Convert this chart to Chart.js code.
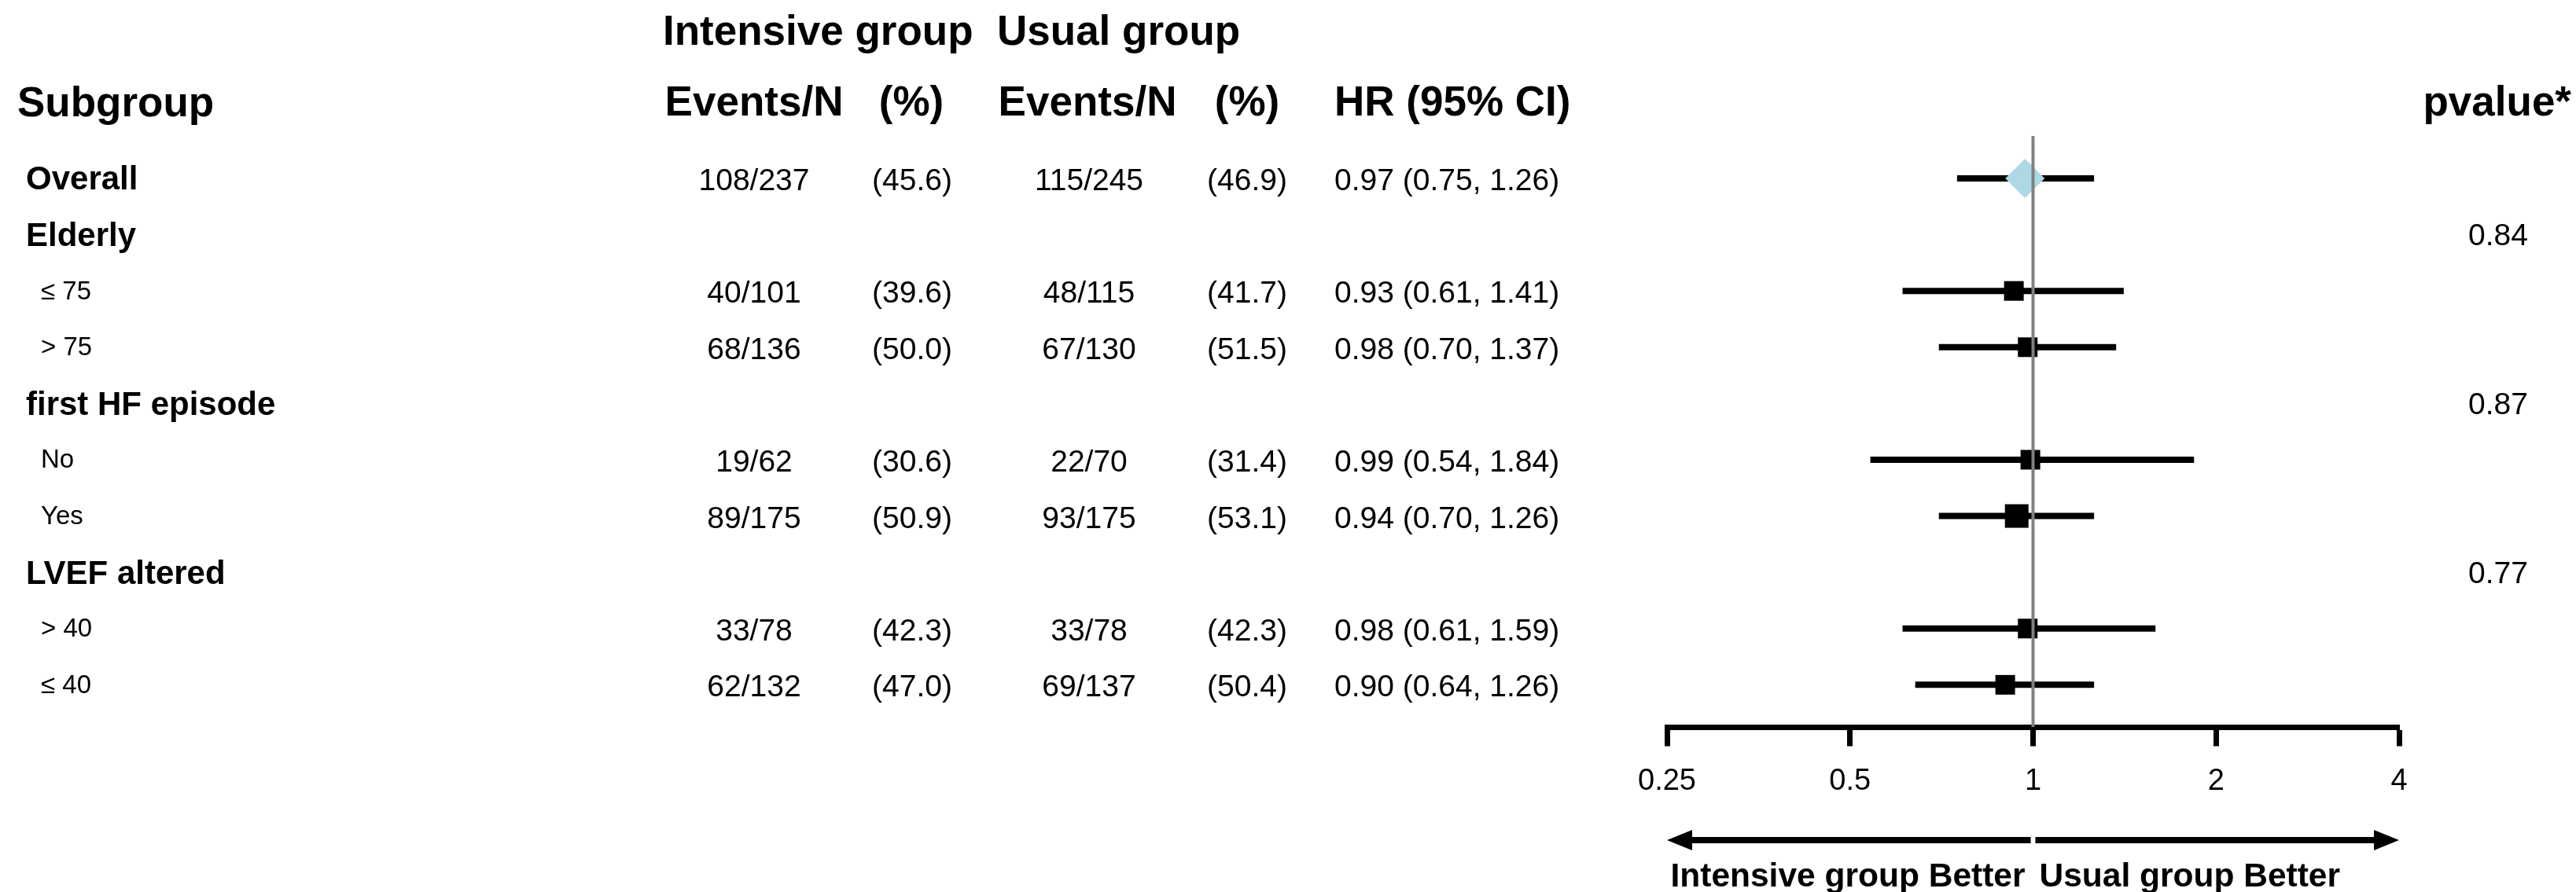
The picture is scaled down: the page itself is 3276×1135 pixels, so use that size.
<!DOCTYPE html>
<html>
<head>
<meta charset="utf-8">
<title>Subgroup forest plot</title>
<script src="https://cdn.jsdelivr.net/npm/chart.js@4.4.1/dist/chart.umd.min.js"></script>
<style>
  html, body { margin: 0; padding: 0; background: #fff; }
  #wrap { width: 3276px; height: 1135px; }
</style>
</head>
<body>
<div id="wrap"><canvas id="forestChart" width="3276" height="1135"></canvas></div>
<script>
// Data
const subgroups = ['Overall', 'Elderly', '\u2264 75', '> 75', 'first HF episode', 'No', 'Yes', 'LVEF altered', '> 40', '\u2264 40'];
const isGroupRow = [true, true, false, false, true, false, false, true, false, false];
const intensiveEvents = ['108/237', '', '40/101', '68/136', '', '19/62', '89/175', '', '33/78', '62/132'];
const intensivePct = ['(45.6)', '', '(39.6)', '(50.0)', '', '(30.6)', '(50.9)', '', '(42.3)', '(47.0)'];
const usualEvents = ['115/245', '', '48/115', '67/130', '', '22/70', '93/175', '', '33/78', '69/137'];
const usualPct = ['(46.9)', '', '(41.7)', '(51.5)', '', '(31.4)', '(53.1)', '', '(42.3)', '(50.4)'];
const hazardRatio = [0.97, null, 0.93, 0.98, null, 0.99, 0.94, null, 0.98, 0.90];
const ciLower = [0.75, null, 0.61, 0.70, null, 0.54, 0.70, null, 0.61, 0.64];
const ciUpper = [1.26, null, 1.41, 1.37, null, 1.84, 1.26, null, 1.59, 1.26];
const pValues = ['', '0.84', '', '', '0.87', '', '', '0.77', '', ''];
const xTicks = [0.25, 0.5, 1, 2, 4];
const xTickLabels = ['0.25', '0.5', '1', '2', '4'];

// Style: box side in px for each row (0 = no box)
const boxSide = [0, 0, 25, 25, 0, 25, 30, 0, 25, 25];
const FONT = '"Liberation Sans", Arial, Helvetica, sans-serif';

document.addEventListener('DOMContentLoaded', function() {
    function setFont(ctx, weight, size) {
        ctx.font = weight + ' ' + size + 'px ' + FONT;
    }

    function hrLabel(i) {
        return hazardRatio[i].toFixed(2) + ' (' + ciLower[i].toFixed(2) + ', ' + ciUpper[i].toFixed(2) + ')';
    }

    // one dataset per confidence interval line
    const ciDatasets = [];
    subgroups.forEach(function(name, i) {
        if (hazardRatio[i] === null) return;
        ciDatasets.push({
            type: 'line',
            label: 'CI ' + name,
            data: [{ x: ciLower[i], y: i }, { x: ciUpper[i], y: i }],
            borderColor: '#000',
            borderWidth: 8,
            borderCapStyle: 'butt',
            pointRadius: 0,
            order: 3
        });
    });

    const boxPoints = [];
    const boxRadius = [];
    subgroups.forEach(function(name, i) {
        if (hazardRatio[i] === null || i === 0) return;
        boxPoints.push({ x: hazardRatio[i], y: i });
        boxRadius.push(boxSide[i] / Math.SQRT2);
    });

    const yMin = -0.754;
    const yMax = 9.749;

    const tablePlugin = {
        id: 'forestTable',
        afterDraw: function(chart) {
            const ctx = chart.ctx;
            const ys = chart.scales.y;
            const xs = chart.scales.x;
            ctx.save();
            ctx.fillStyle = '#000';
            ctx.textBaseline = 'alphabetic';

            // column headers
            setFont(ctx, 'bold', 53);
            ctx.textAlign = 'left';
            ctx.fillText('Intensive group', 843, 57);
            ctx.fillText('Usual group', 1268, 57);
            ctx.fillText('Subgroup', 22, 148);
            ctx.fillText('HR (95% CI)', 1697, 147);
            ctx.textAlign = 'center';
            ctx.fillText('Events/N', 959, 147);
            ctx.fillText('(%)', 1159, 147);
            ctx.fillText('Events/N', 1383, 147);
            ctx.fillText('(%)', 1586, 147);
            ctx.textAlign = 'right';
            ctx.fillText('pvalue*', 3270, 147);

            // rows
            subgroups.forEach(function(name, i) {
                const py = ys.getPixelForValue(i);
                ctx.textAlign = 'left';
                if (isGroupRow[i]) {
                    setFont(ctx, 'bold', 42);
                    ctx.fillText(name, 33, py + 14.5);
                } else {
                    setFont(ctx, 'normal', 33);
                    ctx.fillText(name, 52, py + 10.5);
                }
                setFont(ctx, 'normal', 39);
                ctx.textAlign = 'center';
                if (intensiveEvents[i]) ctx.fillText(intensiveEvents[i], 959, py + 15);
                if (intensivePct[i]) ctx.fillText(intensivePct[i], 1160, py + 15);
                if (usualEvents[i]) ctx.fillText(usualEvents[i], 1385, py + 15);
                if (usualPct[i]) ctx.fillText(usualPct[i], 1586, py + 15);
                if (pValues[i]) ctx.fillText(pValues[i], 3177, py + 13.5);
                if (hazardRatio[i] !== null) {
                    ctx.textAlign = 'left';
                    ctx.fillText(hrLabel(i), 1697, py + 15);
                }
            });

            // arrows under the axis
            const left = xs.getPixelForValue(xTicks[0]);
            const mid = xs.getPixelForValue(1);
            const right = xs.getPixelForValue(xTicks[xTicks.length - 1]);
            const ay = 1069;
            const headLen = 32;
            const headHalf = 13;
            ctx.strokeStyle = '#000';
            ctx.lineWidth = 8;
            ctx.lineCap = 'butt';
            ctx.beginPath();
            ctx.moveTo(left + headLen - 2, ay);
            ctx.lineTo(mid - 3, ay);
            ctx.moveTo(mid + 3, ay);
            ctx.lineTo(right - headLen + 2, ay);
            ctx.stroke();
            ctx.beginPath();
            ctx.moveTo(left, ay);
            ctx.lineTo(left + headLen, ay - headHalf);
            ctx.lineTo(left + headLen, ay + headHalf);
            ctx.closePath();
            ctx.moveTo(right, ay);
            ctx.lineTo(right - headLen, ay - headHalf);
            ctx.lineTo(right - headLen, ay + headHalf);
            ctx.closePath();
            ctx.fill();

            setFont(ctx, 'bold', 42.5);
            ctx.textAlign = 'right';
            ctx.fillText('Intensive group Better', mid - 10, 1128);
            ctx.textAlign = 'left';
            ctx.fillText('Usual group Better', mid + 8, 1128);
            ctx.restore();
        }
    };

    const ctx = document.getElementById('forestChart');
    if (!ctx) {
        console.error('Canvas element not found');
        return;
    }

    new Chart(ctx, {
        type: 'scatter',
        data: {
            datasets: [
                {
                    type: 'line',
                    label: 'No effect',
                    data: [{ x: 1, y: yMin }, { x: 1, y: yMax }],
                    borderColor: '#808080',
                    borderWidth: 4,
                    pointRadius: 0,
                    order: 0
                },
                {
                    label: 'Overall',
                    data: [{ x: hazardRatio[0], y: 0 }],
                    pointStyle: 'rectRot',
                    pointRadius: 25,
                    backgroundColor: '#add8e6',
                    borderWidth: 0,
                    order: 1
                },
                {
                    label: 'Subgroup HR',
                    data: boxPoints,
                    pointStyle: 'rect',
                    pointRadius: boxRadius,
                    backgroundColor: '#000',
                    borderWidth: 0,
                    order: 1
                }
            ].concat(ciDatasets)
        },
        options: {
            responsive: false,
            devicePixelRatio: 1,
            animation: false,
            events: [],
            layout: {
                padding: { left: 2120, right: 225, top: 173, bottom: 0 }
            },
            scales: {
                x: {
                    type: 'logarithmic',
                    position: 'bottom',
                    min: xTicks[0],
                    max: xTicks[xTicks.length - 1],
                    afterBuildTicks: function(scale) {
                        scale.ticks = xTicks.map(function(v) { return { value: v }; });
                    },
                    afterFit: function(scale) {
                        scale.height = 210;
                    },
                    border: { display: true, color: '#000', width: 7 },
                    grid: {
                        display: true,
                        drawOnChartArea: false,
                        drawTicks: true,
                        tickLength: 24.5,
                        tickWidth: 7,
                        tickColor: '#000'
                    },
                    ticks: {
                        autoSkip: false,
                        maxRotation: 0,
                        padding: 22,
                        color: '#000',
                        font: { family: FONT, size: 38 },
                        callback: function(value, index) {
                            return xTickLabels[index];
                        }
                    }
                },
                y: {
                    type: 'linear',
                    display: false,
                    reverse: true,
                    min: yMin,
                    max: yMax
                }
            },
            plugins: {
                legend: { display: false },
                tooltip: { enabled: false }
            }
        },
        plugins: [tablePlugin]
    });
});
</script>
</body>
</html>
